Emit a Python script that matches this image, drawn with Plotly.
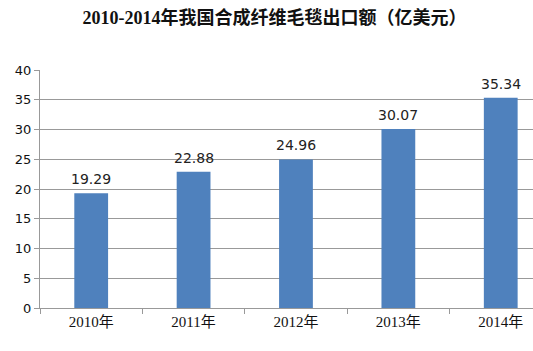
import plotly.graph_objects as go

categories = ["2010年", "2011年", "2012年", "2013年", "2014年"]
values = [19.29, 22.88, 24.96, 30.07, 35.34]
labels = ["19.29", "22.88", "24.96", "30.07", "35.34"]
y_ticks = [0, 5, 10, 15, 20, 25, 30, 35, 40]

fig = go.Figure()
fig.add_trace(go.Bar(
    x=categories, y=values,
    marker=dict(color="#4F81BD", line=dict(width=0)),
    width=0.33,
))
for c, v, t in zip(categories, values, labels):
    fig.add_annotation(x=c, y=v, text=t, showarrow=False, yanchor="bottom",
                       yshift=4,
                       font=dict(family="DejaVu Sans, Noto Sans", size=14, color="#222"))
fig.update_layout(
    width=533, height=351,
    margin=dict(l=40, r=0, t=70, b=43),
    paper_bgcolor="white", plot_bgcolor="white",
    showlegend=False,
    title=dict(text="<b>2010-2014年我国合成纤维毛毯出口额（亿美元）</b>",
               x=0.515, xanchor="center", y=0.95, yanchor="middle",
               font=dict(family="Liberation Serif, Noto Sans CJK SC", size=18, color="#111")),
)
fig.update_xaxes(
    range=[-0.5, 4.315], showgrid=False,
    showline=True, linecolor="#999", linewidth=1,
    ticks="outside", tickson="boundaries", ticklen=5, tickcolor="#999",
    tickfont=dict(family="Liberation Serif, Noto Sans CJK SC", size=15, color="#111"),
)
fig.update_yaxes(
    range=[0, 40], tickvals=y_ticks,
    showgrid=True, gridcolor="#999", gridwidth=1,
    showline=True, linecolor="#999", linewidth=1,
    ticks="outside", ticklen=5, tickcolor="#999",
    tickfont=dict(family="DejaVu Sans, Noto Sans", size=13, color="#111"),
    zeroline=False,
)
fig.write_html("out.html")
